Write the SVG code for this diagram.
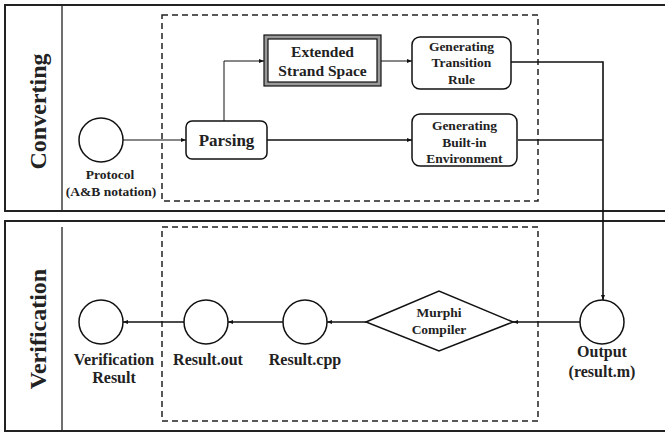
<svg xmlns="http://www.w3.org/2000/svg" width="665" height="432" viewBox="0 0 665 432">
<style>
text{font-family:'Liberation Serif',serif;font-weight:700;fill:#222;text-anchor:middle}
.panel{fill:none;stroke:#222;stroke-width:2}
.div{stroke:#222;stroke-width:1.3}
.dash{fill:none;stroke:#222;stroke-width:1.5;stroke-dasharray:6,4}
.node{fill:#fff;stroke:#111;stroke-width:1.5}
.c{stroke:#111;fill:none}
.thin{stroke-width:1}
.thick{stroke-width:1.6}
.t{font-size:16px}
.m{font-size:15.5px}
.s{font-size:13.5px}
.title{font-size:24px}
</style>
<defs>
<marker id="ah" viewBox="0 0 10 10" refX="10" refY="5" markerWidth="5" markerHeight="5" orient="auto" markerUnits="userSpaceOnUse">
<path d="M0,1 L10,5 L0,9 z" fill="#111"/>
</marker>
</defs>
<rect width="665" height="432" fill="#fff"/>
<g id="converting-panel">
<rect class="panel" x="5" y="5" width="670" height="206"/>
<line class="div" x1="62" y1="5" x2="62" y2="211"/>
<text class="title" transform="translate(46,111.500) rotate(-90)">Converting</text>
<rect class="dash" x="162" y="15" width="376" height="186"/>
</g>
<g id="verification-panel">
<rect class="panel" x="5" y="221" width="670" height="210"/>
<line class="div" x1="62" y1="227" x2="62" y2="431"/>
<text class="title" transform="translate(46,329) rotate(-90)">Verification</text>
<rect class="dash" x="162" y="227" width="376" height="194"/>
</g>
<g id="connectors">
<line class="c thin" x1="123" y1="140" x2="186" y2="140" marker-end="url(#ah)"/>
<polyline class="c thin" points="224,121 224,61 264,61" marker-end="url(#ah)"/>
<line class="c thin" x1="381" y1="61" x2="412" y2="61" marker-end="url(#ah)"/>
<line class="c thick" x1="267" y1="140" x2="412" y2="140" marker-end="url(#ah)"/>
<polyline class="c thick" points="511,62 603,62 603,300" marker-end="url(#ah)"/>
<line class="c thick" x1="518" y1="140" x2="603" y2="140"/>
<line class="c thick" x1="580" y1="322" x2="513" y2="322" marker-end="url(#ah)"/>
<line class="c thick" x1="366" y1="322" x2="327" y2="322" marker-end="url(#ah)"/>
<line class="c thick" x1="283" y1="322" x2="228" y2="322" marker-end="url(#ah)"/>
<line class="c thick" x1="184" y1="322" x2="123" y2="322" marker-end="url(#ah)"/>
</g>
<g id="protocol">
<circle class="node" cx="101" cy="140" r="22"/>
<text class="s" x="110" y="179">Protocol</text>
<text class="s" x="111" y="196">(A&amp;B notation)</text>
</g>
<g id="parsing">
<rect class="node" x="186" y="121" width="81" height="38" rx="6"/>
<text x="226.500" y="146" font-size="17px">Parsing</text>
</g>
<g id="extended-strand-space">
<rect x="264" y="35" width="117" height="51" fill="#999" stroke="#111" stroke-width="1.2"/>
<rect x="268" y="39" width="109" height="43" fill="#fff" stroke="#111" stroke-width="1.2"/>
<text class="m" x="322.500" y="57">Extended</text>
<text class="m" x="322.500" y="76">Strand Space</text>
</g>
<g id="generating-transition-rule">
<rect class="node" x="412" y="37" width="99" height="52" rx="8"/>
<text class="s" x="461.500" y="51">Generating</text>
<text class="s" x="461.500" y="67">Transition</text>
<text class="s" x="461.500" y="84">Rule</text>
</g>
<g id="generating-built-in-environment">
<rect class="node" x="412" y="114" width="105" height="52" rx="8"/>
<text class="s" x="464.500" y="130">Generating</text>
<text class="s" x="464.500" y="147">Built-in</text>
<text class="s" x="464.500" y="163">Environment</text>
</g>
<g id="output">
<circle class="node" cx="602" cy="322" r="22"/>
<text class="t" x="602" y="357">Output</text>
<text class="t" x="602" y="377">(result.m)</text>
</g>
<g id="murphi-compiler">
<polygon class="node" points="366,322 439,291 513,322 439,351"/>
<text class="s" x="439" y="317">Murphi</text>
<text class="s" x="439" y="334">Compiler</text>
</g>
<g id="result-cpp">
<circle class="node" cx="305" cy="322" r="22"/>
<text class="t" x="305" y="365">Result.cpp</text>
</g>
<g id="result-out">
<circle class="node" cx="206" cy="322" r="22"/>
<text class="t" x="208" y="365">Result.out</text>
</g>
<g id="verification-result">
<circle class="node" cx="101" cy="322" r="22"/>
<text class="t" x="114" y="365">Verification</text>
<text class="t" x="114" y="383">Result</text>
</g>
</svg>
